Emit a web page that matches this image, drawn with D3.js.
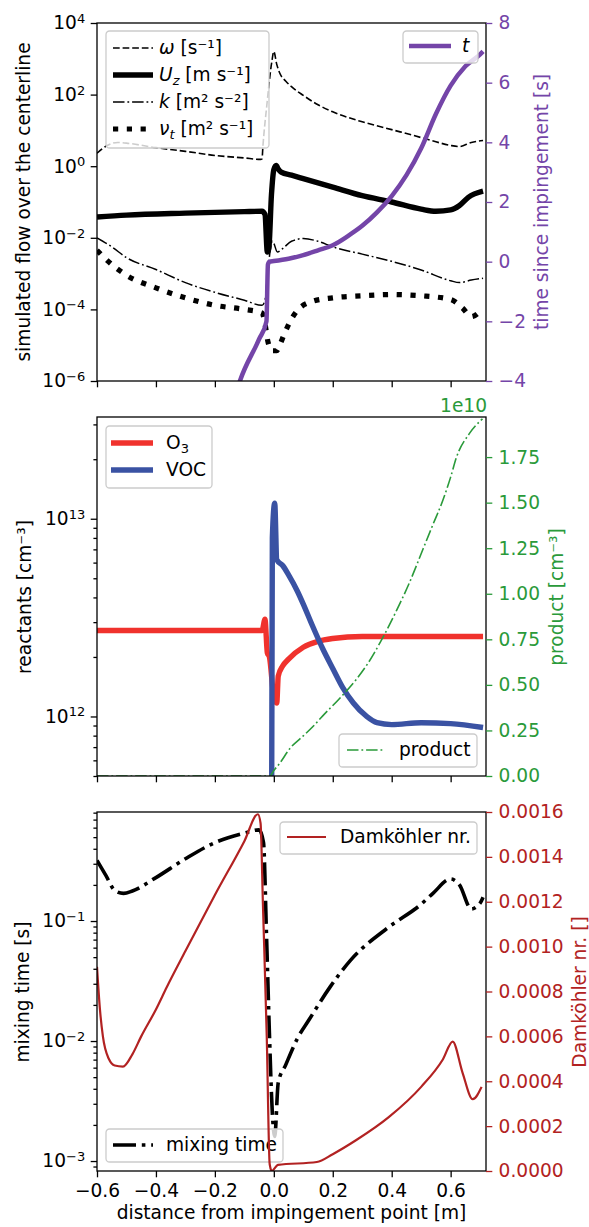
<!doctype html>
<html>
<head>
<meta charset="utf-8">
<script src="https://d3js.org/d3.v7.min.js"></script>
<style>
  body { margin: 0; background: #fff; }
  text { font-family: "DejaVu Sans", sans-serif; }
</style>
</head>
<body>
<svg width="589" height="1227"></svg>
<script>
// shared x axis
const xTicks = [-0.6, -0.4, -0.2, 0.0, 0.2, 0.4, 0.6];

// panel 1: flow over the centerline, [x, value]
const omega = [[-0.6,2.3],[-0.57,3.6],[-0.53,4.6],[-0.5,4.4],[-0.4,3.3],[-0.3,2.6],[-0.2,2.0],[-0.1,1.7],
  [-0.045,1.55],[-0.04,1.6],[-0.037,3.6],[-0.024,48],[-0.007,800],[0.0,1600],[0.01,700],[0.02,400],
  [0.04,240],[0.06,166],[0.1,95],[0.15,52],[0.2,33],[0.3,17.4],[0.4,10.5],[0.5,6.3],[0.55,4.8],
  [0.6,3.8],[0.63,3.55],[0.67,4.6],[0.71,5.2]];
const uz = [[-0.6,0.038],[-0.5,0.043],[-0.3,0.049],[-0.1,0.054],[-0.04,0.055],[-0.03,0.045],[-0.022,0.004],
  [-0.017,0.005],[-0.008,0.16],[0.0,0.8],[0.008,1.05],[0.015,0.83],[0.025,0.68],[0.06,0.56],[0.1,0.45],
  [0.2,0.26],[0.3,0.15],[0.4,0.1],[0.5,0.063],[0.55,0.055],[0.6,0.06],[0.63,0.08],[0.66,0.135],[0.71,0.2]];
const kTurb = [[-0.6,0.01],[-0.55,5.6e-3],[-0.5,2.8e-3],[-0.4,1.3e-3],[-0.3,5.6e-4],[-0.2,3e-4],[-0.1,1.8e-4],
  [-0.04,1.3e-4],[-0.03,1.8e-4],[-0.02,1.26e-3],[-0.005,8e-3],[0.0,7e-3],[0.012,4e-3],[0.03,5e-3],
  [0.06,8e-3],[0.1,9.5e-3],[0.15,8e-3],[0.2,5.6e-3],[0.3,3.5e-3],[0.4,2.2e-3],[0.5,1.26e-3],[0.6,6.3e-4],
  [0.63,5.6e-4],[0.67,6.6e-4],[0.71,7.4e-4]];
const nut = [[-0.6,4.5e-3],[-0.55,1.8e-3],[-0.5,9e-4],[-0.4,4e-4],[-0.3,2.1e-4],[-0.2,1.3e-4],[-0.1,1e-4],
  [-0.04,8e-5],[-0.03,4e-5],[-0.02,1.26e-5],[-0.005,7e-6],[0.01,7e-6],[0.02,1e-5],[0.035,2e-5],[0.054,4.4e-5],
  [0.078,9e-5],[0.13,1.66e-4],[0.2,2.1e-4],[0.3,2.4e-4],[0.4,2.6e-4],[0.5,2.4e-4],[0.6,1.9e-4],[0.64,1.1e-4],
  [0.67,6.3e-5],[0.71,1.1e-4]];
const tSince = [[-0.14,-4.8],[-0.115,-4.0],[-0.05,-2.6],[-0.025,-2.0],[-0.02,-0.1],[-0.015,0.0],[0.0,0.02],
  [0.05,0.1],[0.1,0.22],[0.15,0.38],[0.2,0.55],[0.25,0.85],[0.3,1.2],[0.35,1.65],[0.4,2.2],[0.45,2.9],
  [0.5,3.8],[0.55,4.95],[0.6,5.9],[0.65,6.55],[0.7,6.95],[0.71,7.05]];

// panel 2: reactants and product
const o3 = [[-0.6,2.72e12],[-0.04,2.72e12],[-0.03,3.1e12],[-0.022,2.1e12],[-0.015,2.0e12],[0.0,1.26e12],
  [0.01,1.17e12],[0.015,1.6e12],[0.03,1.8e12],[0.05,1.95e12],[0.1,2.24e12],[0.15,2.4e12],[0.2,2.48e12],
  [0.3,2.54e12],[0.71,2.54e12]];
const voc = [[-0.6,1e9],[-0.012,1e9],[-0.005,8e12],[0.003,1.2e13],[0.01,6.2e12],[0.03,5.8e12],[0.05,5.2e12],
  [0.08,4.3e12],[0.1,3.7e12],[0.13,2.9e12],[0.166,2.2e12],[0.2,1.75e12],[0.234,1.4e12],[0.27,1.17e12],
  [0.315,1.0e12],[0.35,0.93e12],[0.4,0.91e12],[0.5,0.93e12],[0.6,0.92e12],[0.71,0.88e12]];
const product = [[-0.6,0],[-0.014,0],[0.0,0.03e10],[0.02,0.07e10],[0.054,0.15e10],[0.1,0.22e10],
  [0.132,0.27e10],[0.166,0.33e10],[0.22,0.42e10],[0.28,0.53e10],[0.32,0.62e10],[0.36,0.73e10],
  [0.417,0.91e10],[0.46,1.06e10],[0.505,1.24e10],[0.54,1.38e10],[0.573,1.51e10],[0.6,1.64e10],
  [0.62,1.75e10],[0.664,1.88e10],[0.708,1.96e10]];

// panel 3: mixing time and Damkohler number
const mixing = [[-0.6,0.32],[-0.57,0.24],[-0.54,0.18],[-0.51,0.17],[-0.48,0.178],[-0.4,0.23],[-0.3,0.33],
  [-0.2,0.45],[-0.1,0.54],[-0.05,0.575],[-0.035,0.45],[-0.025,0.079],[-0.015,0.0117],[-0.005,0.0025],
  [0.003,0.0016],[0.015,0.0045],[0.04,0.0063],[0.08,0.0105],[0.12,0.0151],[0.19,0.028],[0.26,0.047],
  [0.39,0.089],[0.5,0.138],[0.54,0.17],[0.6,0.224],[0.63,0.2],[0.67,0.126],[0.7,0.141],[0.71,0.158]];
const damkohler = [[-0.6,0.00091],[-0.59,0.00072],[-0.58,0.0006],[-0.56,0.0005],[-0.54,0.00047],
  [-0.512,0.000465],[-0.48,0.00052],[-0.45,0.0006],[-0.4,0.00072],[-0.363,0.00082],[-0.3,0.00098],
  [-0.2,0.00123],[-0.1,0.00147],[-0.054,0.00159],[-0.045,0.00155],[-0.037,0.00119],
  [-0.024,0.0006],[-0.014,0.00003],[-0.007,0.0],[0.014,0.000027],[0.146,0.00004],[0.2,0.000075],
  [0.28,0.000138],[0.39,0.00024],[0.5,0.000375],[0.573,0.000496],[0.607,0.000577],[0.64,0.00044],
  [0.675,0.00032],[0.705,0.000375]];

// right axis ticks
const tTicks = [-4, -2, 0, 2, 4, 6, 8];
const productTicks = [0, 0.25e10, 0.5e10, 0.75e10, 1.0e10, 1.25e10, 1.5e10, 1.75e10];
const damTicks = [0, 0.0002, 0.0004, 0.0006, 0.0008, 0.001, 0.0012, 0.0014, 0.0016];

const PURPLE = "#7445a8", RED = "#f0322d", BLUE = "#3a52a3", GREEN = "#2a9a3a", FIREBRICK = "#b22222";
const FS = 18.6, SUP = 13;
const L = 97, R = 486;
const svg = d3.select("svg");
const x = d3.scaleLinear().domain([-0.6, 0.72]).range([L, R]);
const minus = s => String(s).replace("-", "\u2212");

const panels = [
  {top: 23, bottom: 381}, {top: 417, bottom: 776}, {top: 812, bottom: 1171}
];

const y1 = d3.scaleLog().domain([1e-6, 1e4]).range([381, 23]);
const y1r = d3.scaleLinear().domain([-4, 8]).range([381, 23]);
const y2 = d3.scaleLog().domain([5.0e11, 3.27e13]).range([776, 417]);
const y2r = d3.scaleLinear().domain([0, 1.97e10]).range([776, 417]);
const y3 = d3.scaleLog().domain([8.26e-4, 0.81]).range([1171, 812]);
const y3r = d3.scaleLinear().domain([0, 0.0016]).range([1171, 812]);

panels.forEach((p, i) => {
  svg.append("clipPath").attr("id", "clip" + i).append("rect")
    .attr("x", L).attr("y", p.top).attr("width", R - L).attr("height", p.bottom - p.top);
});

function drawLine(data, y, clip, color, width, dash) {
  svg.append("path").datum(data)
    .attr("clip-path", "url(#clip" + clip + ")")
    .attr("fill", "none")
    .attr("stroke", color)
    .attr("stroke-width", width)
    .attr("stroke-dasharray", dash || null)
    .attr("stroke-linejoin", "round")
    .attr("d", d3.line().x(d => x(d[0])).y(d => y(d[1])).curve(d3.curveMonotoneX));
}

function styleAxis(g, color) {
  g.attr("font-size", FS).attr("font-family", "DejaVu Sans, sans-serif").attr("color", color || "#000");
  g.select(".domain").remove();
  g.selectAll(".tick line").attr("stroke-width", 1.3);
}

function logMinors(domain) {
  const out = [];
  const lo = Math.floor(Math.log10(domain[0])), hi = Math.ceil(Math.log10(domain[1]));
  for (let e = lo; e <= hi; e++) for (let m = 2; m <= 9; m++) {
    const v = m * Math.pow(10, e);
    if (v >= domain[0] && v <= domain[1]) out.push(v);
  }
  return out;
}

function logLeft(y, majors, minors) {
  if (minors.length) {
    const gm = svg.append("g").attr("transform", "translate(" + L + ",0)")
      .call(d3.axisLeft(y).tickValues(minors).tickSize(3.6).tickFormat(""));
    styleAxis(gm);
  }
  const g = svg.append("g").attr("transform", "translate(" + L + ",0)")
    .call(d3.axisLeft(y).tickValues(majors).tickSize(6.3).tickPadding(5.5).tickFormat(""));
  styleAxis(g);
  g.selectAll(".tick text").each(function(d) {
    const t = d3.select(this);
    t.text("10");
    t.append("tspan").attr("dy", "-0.5em").attr("font-size", SUP)
      .text(minus(Math.round(Math.log10(d))));
  });
}

function rightAxis(y, ticks, fmt, color) {
  const g = svg.append("g").attr("transform", "translate(" + R + ",0)")
    .call(d3.axisRight(y).tickValues(ticks).tickSize(6.3).tickPadding(6.3).tickFormat(fmt));
  styleAxis(g, color);
}

function bottomAxis(yPos, labels) {
  const g = svg.append("g").attr("transform", "translate(0," + yPos + ")")
    .call(d3.axisBottom(x).tickValues(xTicks).tickSize(6.3).tickPadding(6.3)
      .tickFormat(labels ? (d => minus(d.toFixed(1))) : ""));
  styleAxis(g);
}

function yLabel(bx, cy, txt, color) {
  svg.append("text")
    .attr("transform", "translate(" + bx + "," + cy + ") rotate(-90)")
    .attr("text-anchor", "middle").attr("font-size", FS).attr("fill", color || "#000")
    .text(txt);
}

// rich text: segments {t, i: italic, sub: subscript}
function richText(xp, yp, segs) {
  const t = svg.append("text").attr("x", xp).attr("y", yp).attr("font-size", FS);
  let shifted = false;
  segs.forEach(s => {
    const sp = t.append("tspan").text(s.t);
    if (s.i) sp.attr("font-style", "italic");
    if (s.sub) { sp.attr("font-size", SUP).attr("dy", 4); shifted = true; }
    else if (shifted) { sp.attr("dy", -4); shifted = false; }
  });
}

function legendBox(bx, by, w, h) {
  svg.append("rect").attr("x", bx).attr("y", by).attr("width", w).attr("height", h)
    .attr("rx", 3.6).attr("fill", "#fff").attr("fill-opacity", 0.8)
    .attr("stroke", "#cccccc").attr("stroke-width", 1.3);
}

function legendLine(x1, x2, yy, color, width, dash) {
  svg.append("line").attr("x1", x1).attr("x2", x2).attr("y1", yy).attr("y2", yy)
    .attr("stroke", color).attr("stroke-width", width).attr("stroke-dasharray", dash || null);
}

function frame(p) {
  svg.append("rect").attr("x", L).attr("y", p.top).attr("width", R - L).attr("height", p.bottom - p.top)
    .attr("fill", "none").attr("stroke", "#000").attr("stroke-width", 1.3);
}

// ---------- panel 1 ----------
const sOmega = ["#000", 1.6, "6.7,2.9"];
const sUz = ["#000", 5.4, null];
const sK = ["#000", 1.5, "11.5,2.9,1.8,2.9"];
const sNut = ["#000", 5.2, "5.2,8.6"];
drawLine(omega, y1, 0, ...sOmega);
drawLine(uz, y1, 0, ...sUz);
drawLine(kTurb, y1, 0, ...sK);
drawLine(nut, y1, 0, ...sNut);
legendBox(106, 31, 163, 117);
legendLine(113, 153, 48, ...sOmega);
legendLine(113, 153, 75, ...sUz);
legendLine(113, 153, 102, ...sK);
legendLine(113, 153, 129, ...sNut);
richText(159, 54, [{t: "ω", i: true}, {t: " [s⁻¹]"}]);
richText(159, 81, [{t: "U", i: true}, {t: "z", i: true, sub: true}, {t: " [m s⁻¹]"}]);
richText(159, 108, [{t: "k", i: true}, {t: " [m² s⁻²]"}]);
richText(159, 135, [{t: "ν", i: true}, {t: "t", i: true, sub: true}, {t: " [m² s⁻¹]"}]);
drawLine(tSince, y1r, 0, PURPLE, 4.5, null);
legendBox(403, 31, 75, 32);
legendLine(409, 451, 46, PURPLE, 4.5, null);
richText(462, 52, [{t: "t", i: true}]);
frame(panels[0]);
logLeft(y1, [1e-6, 1e-4, 1e-2, 1e0, 1e2, 1e4], []);
rightAxis(y1r, tTicks, d => minus(d), PURPLE);
bottomAxis(381, false);
yLabel(30, 202, "simulated flow over the centerline");
yLabel(548, 202, "time since impingement [s]", PURPLE);

// ---------- panel 2 ----------
drawLine(o3, y2, 1, RED, 5.4, null);
drawLine(voc, y2, 1, BLUE, 5.4, null);
legendBox(106, 426, 106, 62);
legendLine(111, 153, 443, RED, 5.4, null);
legendLine(111, 153, 470, BLUE, 5.4, null);
richText(166, 449, [{t: "O"}, {t: "3", sub: true}]);
richText(166, 476, [{t: "VOC"}]);
drawLine(product, y2r, 1, GREEN, 1.6, "11.5,2.9,1.8,2.9");
legendBox(339, 734, 138, 33);
legendLine(347, 385, 750, GREEN, 1.6, "11.5,2.9,1.8,2.9");
richText(399, 756, [{t: "product"}]);
frame(panels[1]);
logLeft(y2, [1e12, 1e13], logMinors(y2.domain()));
rightAxis(y2r, productTicks, d => (d / 1e10).toFixed(2), GREEN);
bottomAxis(776, false);
svg.append("text").attr("x", 487).attr("y", 412).attr("text-anchor", "end")
  .attr("font-size", FS).attr("fill", GREEN).text("1e10");
yLabel(31, 597, "reactants [cm⁻³]");
yLabel(563, 597, "product [cm⁻³]", GREEN);

// ---------- panel 3 ----------
drawLine(mixing, y3, 2, "#000", 3.6, "23,5.8,3.6,5.8");
legendBox(106, 1129, 177, 33);
legendLine(113, 153, 1145, "#000", 3.6, "23,5.8,3.6,5.8");
richText(166, 1151, [{t: "mixing time"}]);
drawLine(damkohler, y3r, 2, FIREBRICK, 2.2, null);
legendBox(280, 822, 197, 32);
legendLine(287, 326, 837, FIREBRICK, 2.2, null);
richText(340, 843, [{t: "Damköhler nr."}]);
frame(panels[2]);
logLeft(y3, [1e-3, 1e-2, 1e-1], logMinors(y3.domain()));
rightAxis(y3r, damTicks, d => d.toFixed(4), FIREBRICK);
bottomAxis(1171, true);
yLabel(29, 992, "mixing time [s]");
yLabel(586, 992, "Damköhler nr. []", FIREBRICK);
svg.append("text").attr("x", 291.5).attr("y", 1219).attr("text-anchor", "middle")
  .attr("font-size", FS).text("distance from impingement point [m]");
</script>
</body>
</html>
